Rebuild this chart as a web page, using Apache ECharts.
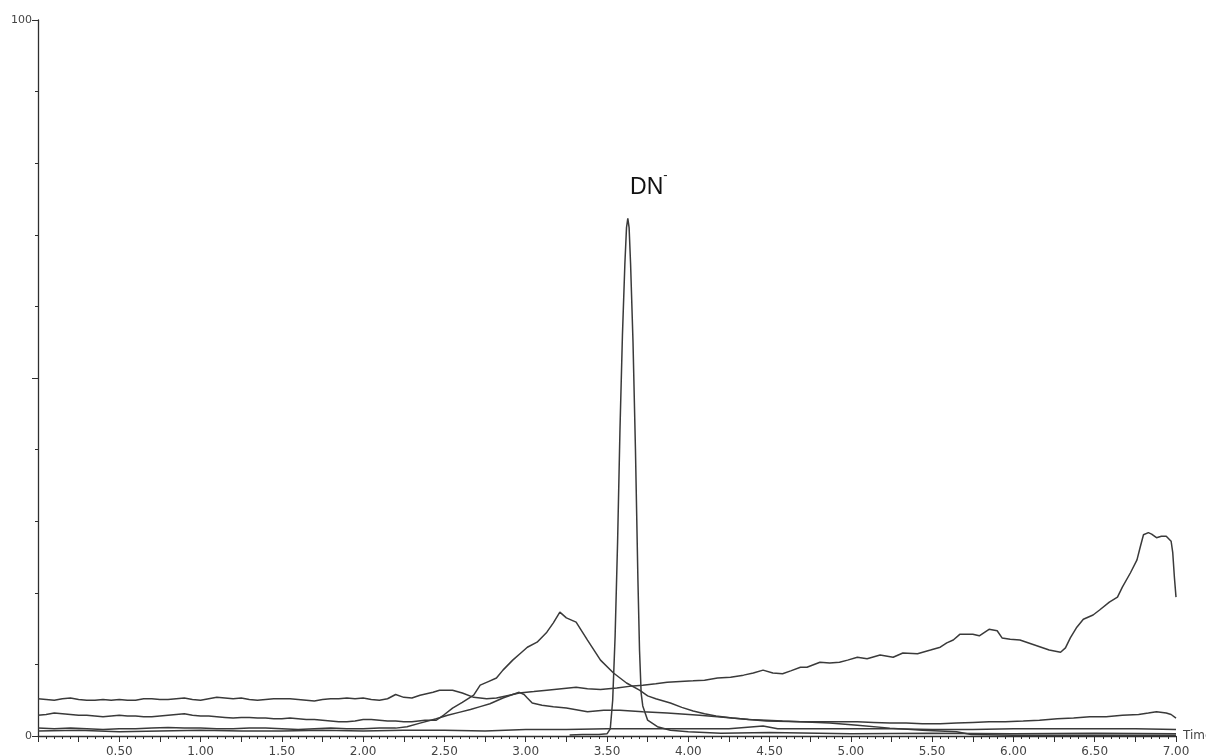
<!DOCTYPE html>
<html>
<head>
<meta charset="utf-8">
<title>Chromatogram</title>
<script src="https://cdn.jsdelivr.net/npm/echarts@6/dist/echarts.min.js"></script>
<style>
  html, body { margin: 0; padding: 0; background: #ffffff; overflow: hidden; }
  #chart { width: 1206px; height: 755px; }
</style>
</head>
<body>
<div id="chart"></div>
<script>
// Retention time (min) and relative intensity (%) for each trace
const traceATime = [0.00,0.05,0.10,0.15,0.20,0.25,0.30,0.35,0.40,0.45,0.50,0.55,0.60,0.65,0.70,0.75,0.80,0.85,0.90,0.95,
  1.00,1.05,1.10,1.15,1.20,1.25,1.30,1.35,1.40,1.45,1.50,1.55,1.60,1.65,1.70,1.75,1.80,1.85,1.90,1.95,
  2.00,2.05,2.10,2.15,2.20,2.25,2.30,2.35,2.43,2.47,2.55,2.61,2.68,2.76,2.82,2.90,2.96,3.05,3.13,3.22,
  3.31,3.38,3.46,3.56,3.66,3.72,3.80,3.87,3.95,4.03,4.10,4.18,4.26,4.34,4.40,4.46,4.52,4.58,4.63,4.69,
  4.73,4.81,4.87,4.93,4.98,5.04,5.10,5.18,5.26,5.32,5.41,5.49,5.55,5.59,5.63,5.67,5.75,5.79,5.85,5.90,
  5.93,5.98,6.04,6.13,6.22,6.29,6.32,6.35,6.39,6.43,6.49,6.53,6.59,6.64,6.67,6.72,6.76,6.78,6.80,6.83,
  6.85,6.88,6.91,6.94,6.97,6.98,6.99,7.00];
const traceAValue = [5.2,5.1,5.0,5.2,5.3,5.1,5.0,5.0,5.1,5.0,5.1,5.0,5.0,5.2,5.2,5.1,5.1,5.2,5.3,5.1,
  5.0,5.2,5.4,5.3,5.2,5.3,5.1,5.0,5.1,5.2,5.2,5.2,5.1,5.0,4.9,5.1,5.2,5.2,5.3,5.2,
  5.3,5.1,5.0,5.2,5.8,5.4,5.3,5.7,6.1,6.4,6.4,6.0,5.4,5.2,5.3,5.7,6.0,6.2,6.4,6.6,
  6.8,6.6,6.5,6.7,7.0,7.1,7.3,7.5,7.6,7.7,7.8,8.1,8.2,8.5,8.8,9.2,8.8,8.7,9.1,9.6,
  9.6,10.3,10.2,10.3,10.6,11.0,10.8,11.3,11.0,11.6,11.5,12.0,12.4,13.0,13.4,14.2,14.2,14.0,14.9,14.7,
  13.7,13.5,13.4,12.7,12.0,11.7,12.3,13.7,15.2,16.3,16.9,17.6,18.7,19.4,20.8,22.8,24.6,26.4,28.1,28.4,
  28.2,27.7,27.9,27.9,27.2,25.6,22.2,19.4];

const traceBTime = [0.00,0.05,0.10,0.15,0.20,0.25,0.30,0.35,0.40,0.45,0.50,0.55,0.60,0.65,0.70,0.75,0.80,0.85,0.90,0.95,
  1.00,1.05,1.10,1.15,1.20,1.25,1.30,1.35,1.40,1.45,1.50,1.55,1.60,1.65,1.70,1.75,1.80,1.85,1.90,1.95,
  2.00,2.05,2.10,2.15,2.20,2.25,2.30,2.38,2.45,2.50,2.55,2.61,2.68,2.72,2.77,2.82,2.86,2.92,2.97,3.01,
  3.07,3.13,3.17,3.21,3.25,3.31,3.38,3.46,3.54,3.62,3.70,3.75,3.80,3.89,3.96,4.03,4.10,4.17,4.27,4.37,
  4.48,4.58,4.69,4.80,4.92,5.04,5.14,5.24,5.34,5.44,5.55,5.65,5.75,5.85,5.95,6.06,6.16,6.27,6.37,6.47,
  6.57,6.67,6.77,6.83,6.88,6.94,6.97,7.00];
const traceBValue = [2.9,3.0,3.2,3.1,3.0,2.9,2.9,2.8,2.7,2.8,2.9,2.8,2.8,2.7,2.7,2.8,2.9,3.0,3.1,2.9,
  2.8,2.8,2.7,2.6,2.5,2.6,2.6,2.5,2.5,2.4,2.4,2.5,2.4,2.3,2.3,2.2,2.1,2.0,2.0,2.1,
  2.3,2.3,2.2,2.1,2.1,2.0,2.0,2.2,2.2,3.0,3.9,4.7,5.7,7.1,7.6,8.1,9.2,10.6,11.6,12.4,
  13.1,14.5,15.8,17.3,16.5,15.9,13.4,10.6,8.8,7.4,6.4,5.6,5.2,4.6,4.0,3.5,3.1,2.8,2.5,2.3,
  2.2,2.1,2.0,2.0,2.0,2.0,1.9,1.8,1.8,1.7,1.7,1.8,1.9,2.0,2.0,2.1,2.2,2.4,2.5,2.7,
  2.7,2.9,3.0,3.2,3.4,3.2,3.0,2.5];

const traceCTime = [0.00,0.10,0.20,0.30,0.40,0.50,0.60,0.70,0.80,0.90,1.00,1.10,1.20,1.30,1.40,1.50,1.60,1.70,1.80,1.90,
  2.00,2.10,2.20,2.27,2.35,2.45,2.52,2.59,2.66,2.72,2.78,2.86,2.92,2.96,2.99,3.01,3.04,3.10,3.17,3.25,
  3.38,3.48,3.58,3.72,3.87,4.07,4.27,4.48,4.69,4.87,5.04,5.24,5.44,5.65,5.74,6.00,6.50,7.00];
const traceCValue = [1.1,1.0,1.1,1.0,0.9,1.0,1.0,1.1,1.2,1.1,1.1,1.0,1.0,1.1,1.1,1.0,0.9,1.0,1.1,1.0,
  1.0,1.1,1.1,1.3,1.8,2.4,2.9,3.3,3.7,4.1,4.5,5.3,5.8,6.1,5.8,5.3,4.6,4.3,4.1,3.9,
  3.4,3.6,3.6,3.4,3.2,2.9,2.5,2.1,2.0,1.8,1.5,1.1,0.8,0.6,0.2,0.1,0.1,0.1];

const traceDTime = [0.00,0.25,0.50,0.75,1.00,1.25,1.50,1.75,2.00,2.25,2.50,2.75,3.00,3.25,3.50,3.75,4.00,4.25,4.46,4.55,
  4.75,5.00,5.25,5.50,5.75,6.00,6.25,6.50,6.75,7.00];
const traceDValue = [0.7,0.8,0.6,0.7,0.8,0.7,0.7,0.8,0.7,0.8,0.8,0.7,0.9,0.9,1.0,1.0,1.0,1.0,1.4,1.0,
  1.0,1.0,1.0,0.9,0.9,1.0,1.0,1.0,1.0,0.9];

// DN- transition with its sharp peak
const traceETime = [3.27,3.35,3.45,3.50,3.52,3.535,3.55,3.565,3.58,3.595,3.61,3.62,3.628,3.636,3.645,3.66,3.675,3.69,3.70,3.71,
  3.72,3.75,3.81,3.89,4.00,4.20,4.50,4.80,5.00,5.50,6.00,6.50,7.00];
const traceEValue = [0.15,0.2,0.2,0.3,1.0,5,14,27,43,56,66,71,72.3,71,66,55,40,22,12,6,
  4.2,2.2,1.3,0.8,0.6,0.4,0.5,0.4,0.3,0.4,0.3,0.4,0.3];

const peakName = 'DN';
const xTickLabels = ['0.50','1.00','1.50','2.00','2.50','3.00','3.50','4.00','4.50','5.00','5.50','6.00','6.50','7.00'];
const yTickLabels = ['0','100'];

function zip(t, v) { return t.map((x, i) => [x, v[i]]); }

const lineColor = '#3a3a3a';
const axisColor = '#2e2e2e';
const labelColor = '#444444';
const tickFont = 'DejaVu Sans';

function trace(name, t, v, extra) {
  return Object.assign({
    name: name,
    type: 'line',
    data: zip(t, v),
    symbol: 'none',
    showSymbol: false,
    smooth: false,
    lineStyle: { color: lineColor, width: 1.5 },
    emphasis: { disabled: true },
    animation: false
  }, extra || {});
}

// Index of the apex of the DN- trace
const peakIdx = traceEValue.indexOf(Math.max.apply(null, traceEValue));

const chart = echarts.init(document.getElementById('chart'), null, { renderer: 'canvas' });
chart.setOption({
  backgroundColor: '#ffffff',
  animation: false,
  grid: { left: 38, right: 30, top: 20, bottom: 19, containLabel: false, outerBoundsMode: 'none' },
  xAxis: {
    type: 'value',
    min: 0, max: 7, interval: 0.25,
    name: 'Time',
    nameLocation: 'end',
    nameGap: 7,
    nameTextStyle: { fontFamily: tickFont, fontSize: 12, color: labelColor },
    axisLine: { show: true, onZero: false, lineStyle: { color: axisColor, width: 1.3 } },
    axisTick: { show: true, length: 6, lineStyle: { color: axisColor, width: 1 } },
    minorTick: { show: true, splitNumber: 5, length: 3, lineStyle: { color: axisColor, width: 1 } },
    splitLine: { show: false },
    minorSplitLine: { show: false },
    axisLabel: {
      show: true, margin: 10,
      fontFamily: tickFont, fontSize: 12, color: labelColor,
      showMinLabel: true, showMaxLabel: true,
      formatter: function (v) {
        const k = v / 0.5;
        if (v <= 0 || Math.abs(k - Math.round(k)) > 1e-9) return '';
        return xTickLabels[Math.round(k) - 1] || '';
      }
    }
  },
  yAxis: {
    type: 'value',
    min: 0, max: 100, interval: 50,
    axisLine: { show: true, onZero: false, lineStyle: { color: axisColor, width: 1.3 } },
    axisTick: { show: true, length: 6, lineStyle: { color: axisColor, width: 1 } },
    minorTick: { show: true, splitNumber: 5, length: 3, lineStyle: { color: axisColor, width: 1 } },
    splitLine: { show: false },
    minorSplitLine: { show: false },
    axisLabel: {
      show: true, margin: 6,
      fontFamily: tickFont, fontSize: 11, color: labelColor,
      formatter: function (v) {
        if (v === 0) return yTickLabels[0];
        if (v === 100) return yTickLabels[1];
        return '';
      }
    }
  },
  series: [
    trace('A', traceATime, traceAValue),
    trace('B', traceBTime, traceBValue),
    trace('C', traceCTime, traceCValue),
    trace('D', traceDTime, traceDValue),
    trace('E', traceETime, traceEValue, {
      markPoint: {
        symbol: 'circle',
        symbolSize: 1,
        itemStyle: { color: 'rgba(0,0,0,0)' },
        silent: true,
        data: [{
          coord: [traceETime[peakIdx], traceEValue[peakIdx]],
          label: {
            show: true,
            position: 'inside',
            offset: [21, -34],
            formatter: '{a|' + peakName + '}{b|-}',
            rich: {
              a: { fontFamily: 'Liberation Sans', fontSize: 23, color: '#111111', lineHeight: 30, verticalAlign: 'bottom' },
              b: { fontFamily: 'Liberation Sans', fontSize: 13, color: '#111111', verticalAlign: 'top', lineHeight: 14 }
            }
          }
        }]
      }
    })
  ]
});
</script>
</body>
</html>
